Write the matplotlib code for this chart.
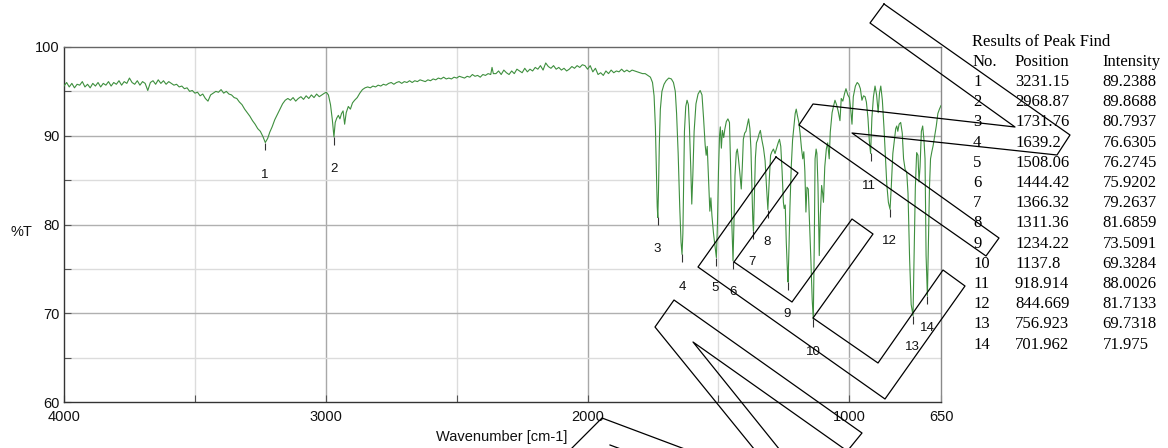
import matplotlib
matplotlib.use("Agg")
import matplotlib.pyplot as plt
from matplotlib.lines import Line2D

# ---------------- data ----------------
wavenumber = [
    4000, 3990, 3980, 3970, 3960, 3950, 3940, 3930, 3920, 3910,
    3900, 3890, 3880, 3870, 3860, 3850, 3840, 3830, 3820, 3810,
    3800, 3790, 3780, 3770, 3760, 3750, 3740, 3730, 3720, 3710,
    3700, 3690, 3680, 3670, 3660, 3650, 3640, 3630, 3620, 3610,
    3600, 3590, 3580, 3570, 3560, 3550, 3540, 3530, 3520, 3510,
    3500, 3490, 3480, 3470, 3460, 3450, 3440, 3430, 3420, 3410,
    3400, 3390, 3380, 3370, 3360, 3350, 3340, 3330, 3320, 3310,
    3300, 3290, 3280, 3270, 3260, 3250, 3240, 3231.15, 3222, 3214,
    3205, 3195, 3185, 3175, 3165, 3155, 3145, 3135, 3125, 3115,
    3105, 3095, 3085, 3075, 3065, 3055, 3045, 3035, 3025, 3015,
    3005, 2998, 2990, 2982, 2975, 2968.87, 2964, 2958, 2952, 2946,
    2940, 2934, 2928, 2922, 2914, 2906, 2898, 2890, 2880, 2870,
    2860, 2850, 2840, 2830, 2820, 2810, 2800, 2790, 2780, 2770,
    2760, 2750, 2740, 2730, 2720, 2710, 2700, 2690, 2680, 2670,
    2660, 2650, 2640, 2630, 2620, 2610, 2600, 2590, 2580, 2570,
    2560, 2550, 2540, 2530, 2520, 2510, 2500, 2490, 2480, 2470,
    2460, 2450, 2440, 2430, 2420, 2410, 2400, 2390, 2380, 2370,
    2365, 2360, 2350, 2340, 2330, 2320, 2310, 2300, 2290, 2280,
    2270, 2260, 2250, 2240, 2230, 2220, 2210, 2200, 2190, 2180,
    2170, 2160, 2150, 2140, 2130, 2120, 2110, 2100, 2090, 2080,
    2070, 2060, 2050, 2040, 2030, 2020, 2010, 2000, 1990, 1980,
    1970, 1960, 1950, 1940, 1930, 1920, 1910, 1900, 1890, 1880,
    1870, 1860, 1850, 1840, 1830, 1820, 1810, 1800, 1790, 1780,
    1770, 1760, 1752, 1746, 1741, 1737, 1734, 1731.76, 1729, 1726,
    1722, 1716, 1708, 1700, 1690, 1680, 1672, 1665, 1660, 1654,
    1648, 1643, 1639.2, 1636, 1633, 1630, 1625, 1620, 1615, 1611,
    1606, 1602, 1598, 1593, 1586, 1578, 1570, 1563, 1557, 1551,
    1547, 1543, 1538, 1533, 1529, 1525, 1519, 1513, 1508.06, 1504,
    1500, 1496, 1493, 1489, 1485, 1480, 1476, 1470, 1464, 1458,
    1454, 1450, 1446, 1444.42, 1441, 1437, 1432, 1428, 1424, 1419,
    1413, 1409, 1405, 1400, 1395, 1390, 1385, 1380, 1376, 1372,
    1369, 1366.32, 1363, 1359, 1355, 1350, 1345, 1340, 1334, 1328,
    1322, 1317, 1311.36, 1306, 1301, 1296, 1290, 1284, 1278, 1272,
    1267, 1262, 1257, 1252, 1249, 1245, 1241, 1237, 1234.22, 1231,
    1227, 1222, 1217, 1212, 1207, 1203, 1198, 1193, 1188, 1183,
    1178, 1174, 1170, 1166, 1162, 1157, 1152, 1147, 1142, 1137.8,
    1134, 1131, 1127, 1124, 1120, 1115, 1111, 1106, 1102, 1099,
    1094, 1088, 1083, 1077, 1073, 1066, 1060, 1055, 1049, 1043,
    1036, 1031, 1025, 1018, 1013, 1006, 1000, 995, 990, 985,
    977, 970, 964, 958, 952, 946, 940, 935, 929, 924,
    918.914, 914, 908, 902, 896, 890, 885, 880, 874, 868,
    862, 857, 851, 844.669, 840, 834, 829, 823, 819, 815,
    810, 804, 798, 793, 787, 781, 776, 770, 764, 756.923,
    753, 748, 743, 738, 734, 730, 725, 720, 715, 711,
    707, 701.962, 698, 694, 690, 685, 680, 674, 668, 662,
    656, 650,
]
transmittance = [
    95.6, 96.0, 95.5, 95.9, 95.4, 95.8, 95.7, 96.1, 95.5, 95.8,
    95.4, 95.9, 95.6, 96.0, 95.5, 95.9, 95.7, 96.1, 95.6, 96.0,
    95.8, 96.2, 95.7, 96.1, 95.9, 96.5, 96.0, 95.8, 96.2, 95.7,
    96.1, 95.9, 95.1, 96.0, 96.2, 95.8, 96.3, 95.9, 96.2, 95.8,
    96.1, 95.9, 95.7, 95.8, 95.5, 95.6, 95.3, 95.4, 95.0, 95.1,
    94.8, 94.9, 94.5, 94.7, 94.2, 93.9, 94.6, 94.8, 95.0, 94.9,
    95.2, 94.8, 95.0, 94.7, 94.6, 94.3, 94.2, 93.8, 93.5, 93.0,
    92.6, 92.2, 91.7, 91.3, 90.8, 90.5, 89.9, 89.2388, 89.7, 90.4,
    91.0, 91.8, 92.4, 93.0, 93.6, 94.0, 94.2, 94.0, 94.3, 93.9,
    94.2, 94.4, 94.1, 94.5, 94.2, 94.6, 94.3, 94.7, 94.4, 94.6,
    94.8, 94.9, 94.6, 93.5, 91.8, 89.8688, 91.5, 92.0, 92.3, 91.9,
    92.5, 92.8, 91.3, 92.6, 93.3, 93.0, 93.7, 94.0, 94.3, 94.8,
    95.2, 95.4, 95.5, 95.4, 95.6, 95.5, 95.7, 95.6, 95.8, 95.7,
    95.9, 96.0, 95.8, 96.0, 96.1, 95.9, 96.1, 96.0, 96.2, 96.0,
    96.2, 96.1, 96.3, 96.2, 96.1, 96.3, 96.2, 96.4, 96.3, 96.5,
    96.4, 96.6, 96.4, 96.5, 96.4, 96.6, 96.5, 96.7, 96.6, 96.5,
    96.7, 96.6, 96.9, 96.7, 96.8, 96.6, 96.9, 96.8, 97.0, 96.9,
    97.7, 97.0, 97.0, 97.3, 96.9, 97.4, 97.1, 96.9, 97.3, 97.0,
    97.5, 97.3, 97.1, 97.6, 97.2, 97.5, 97.3, 97.7, 97.5, 97.9,
    97.4, 98.2, 97.8, 97.6, 97.9, 97.5, 97.7, 97.4, 97.6, 97.3,
    97.5, 97.8, 97.6, 97.9, 97.7, 98.0, 97.9, 97.5, 97.9, 97.2,
    97.6, 96.9, 97.1, 96.8, 97.3, 97.0, 97.4, 97.1, 97.3, 97.2,
    97.5, 97.2, 97.4, 97.2, 97.4, 97.3, 97.2, 97.1, 97.0, 97.0,
    96.8, 96.6, 96.0, 94.5, 91.0, 86.0, 82.0, 80.7937, 84.0, 89.0,
    93.0, 95.0, 95.8, 96.2, 96.5, 96.4, 96.0, 95.0, 92.5, 88.0,
    82.0, 78.0, 76.6305, 79.0, 85.0, 90.5, 93.3, 94.0, 93.5, 91.0,
    86.5, 82.3, 85.5, 90.5, 93.6, 94.7, 95.1, 94.6, 92.0, 89.0,
    87.8, 88.8, 85.0, 81.5, 83.0, 81.0, 79.0, 77.5, 76.2745, 80.0,
    86.0, 90.0, 91.0, 88.6, 90.6, 89.8, 90.7, 91.6, 91.9, 91.5,
    87.0, 81.0, 77.5, 75.9202, 80.0, 85.5, 88.1, 88.5, 87.5, 86.0,
    84.0, 86.5, 89.6, 90.3, 90.5, 91.2, 91.9, 90.8, 88.5, 84.0,
    80.5, 79.2637, 83.0, 87.5, 89.2, 89.6, 90.2, 90.6, 89.5, 88.6,
    87.2, 84.5, 81.6859, 85.0, 87.8, 88.2, 88.5, 88.0, 88.6, 89.2,
    89.6, 88.8, 86.0, 82.5, 81.8, 82.2, 78.0, 75.0, 73.5091, 77.0,
    82.0, 86.5, 89.5, 91.0, 92.5, 93.0, 92.2, 91.5, 90.2, 88.6,
    87.4, 88.2, 86.0, 81.4, 84.2, 84.0, 80.0, 76.0, 71.5, 69.3284,
    78.0, 87.4, 88.5, 88.0, 84.5, 76.5, 81.0, 84.4, 83.5, 82.5,
    86.5, 88.5, 89.2, 87.4, 90.4, 92.6, 93.4, 94.0, 93.5, 92.8,
    91.7, 94.2, 93.9, 94.8, 95.3, 94.6, 94.3, 93.0, 91.3, 94.4,
    95.6, 96.0, 95.8, 95.3, 94.0, 94.5, 94.4, 93.8, 92.0, 89.5,
    88.0026, 92.0, 94.4, 95.6, 94.6, 92.6, 94.8, 95.6, 94.0, 91.0,
    87.4, 84.5, 82.5, 81.7133, 84.2, 88.0, 89.3, 90.8, 91.1, 90.5,
    91.3, 91.5, 90.3, 87.4, 86.2, 85.9, 83.5, 76.2, 71.0, 69.7318,
    76.0, 84.2, 88.1, 87.8, 84.8, 86.5, 90.5, 91.1, 89.5, 87.4,
    76.5, 71.975, 78.0, 84.2, 87.4, 88.2, 88.9, 90.0, 91.1, 92.5,
    93.0, 93.4,
]

peak_no = [1, 2, 3, 4, 5, 6, 7, 8, 9, 10, 11, 12, 13, 14]
peak_position = [3231.15, 2968.87, 1731.76, 1639.2, 1508.06, 1444.42, 1366.32,
                 1311.36, 1234.22, 1137.8, 918.914, 844.669, 756.923, 701.962]
peak_position_text = ["3231.15", "2968.87", "1731.76", "1639.2", "1508.06", "1444.42",
                      "1366.32", "1311.36", "1234.22", "1137.8", "918.914", "844.669",
                      "756.923", "701.962"]
peak_intensity = [89.2388, 89.8688, 80.7937, 76.6305, 76.2745, 75.9202, 79.2637,
                  81.6859, 73.5091, 69.3284, 88.0026, 81.7133, 69.7318, 71.975]
peak_intensity_text = ["89.2388", "89.8688", "80.7937", "76.6305", "76.2745", "75.9202",
                       "79.2637", "81.6859", "73.5091", "69.3284", "88.0026", "81.7133",
                       "69.7318", "71.975"]

x_tick_values = [4000, 3000, 2000, 1000, 650]
x_tick_labels = ["4000", "3000", "2000", "1000", "650"]
y_tick_values = [60, 70, 80, 90, 100]
y_tick_labels = ["60", "70", "80", "90", "100"]

# ---------------- layout (pixels of the 1168x448 canvas) ----------------
W, H = 1168, 448
label_xy = [(265, 175), (334, 169), (657, 249), (682, 287), (715, 288), (733, 292),
            (752, 262), (767, 242), (787, 314), (813, 352), (869, 186), (889, 241),
            (912, 347), (927, 328)]

overlay_lines = [
    [(884, 4), (1070, 135), (1057, 155), (852, 133), (999, 238), (986, 256),
     (799, 125), (813, 104), (1015, 127), (870, 23), (884, 4)],
    [(776, 157), (798, 173), (734, 262), (792, 302), (852, 219), (873, 234),
     (813, 318), (878, 363), (943, 270), (965, 286), (885, 399), (698, 267), (776, 157)],
    [(763, 460), (655, 327), (674, 300), (862, 433), (840, 460)],
    [(788, 460), (693, 342), (860, 460)],
    [(560, 460), (602, 418), (714, 460)],
    [(610, 445), (642, 457)],
]

SANS = ["Liberation Sans", "DejaVu Sans"]
SERIF = ["Liberation Serif", "DejaVu Serif"]

fig = plt.figure(figsize=(W / 100, H / 100), dpi=100)
ax_left, ax_right, ax_top, ax_bottom = 64, 941, 47, 402
ax = fig.add_axes([ax_left / W, 1 - ax_bottom / H, (ax_right - ax_left) / W,
                   (ax_bottom - ax_top) / H])

# grid
for v in [3500, 2500, 1500]:
    ax.axvline(v, color="#dcdcdc", lw=1.0, zorder=0)
for v in [3000, 2000, 1000]:
    ax.axvline(v, color="#a8a8a8", lw=1.0, zorder=0)
for v in [65, 75, 85, 95]:
    ax.axhline(v, color="#dcdcdc", lw=1.0, zorder=0)
for v in [70, 80, 90]:
    ax.axhline(v, color="#b0b0b0", lw=1.0, zorder=0)

ax.plot(wavenumber, transmittance, color="#3e8f3e", lw=0.8, zorder=3)
ax.vlines(peak_position, [p - 0.9 for p in peak_intensity], peak_intensity,
          color="#333333", lw=0.8, zorder=4)

ax.set_xlim(4000, 650)
ax.set_ylim(60, 100)

ax.set_xticks([4000, 3500, 3000, 2500, 2000, 1500, 1000, 650])
ax.set_xticklabels(["4000", "", "3000", "", "2000", "", "1000", "650"])
ax.set_yticks([60, 65, 70, 75, 80, 85, 90, 95, 100])
ax.set_yticklabels(["60", "", "70", "", "80", "", "90", "", "100"])
ax.tick_params(axis="x", direction="in", length=5, width=0.8, color="#555555",
               pad=6, labelsize=10.5, labelcolor="#111111")
ax.tick_params(axis="y", direction="in", length=5, width=0.8, color="#555555",
               pad=3, labelsize=10.5, labelcolor="#111111")
for lab in ax.get_xticklabels() + ax.get_yticklabels():
    lab.set_family(SANS)

ax.spines["left"].set_color("#333333")
ax.spines["bottom"].set_color("#333333")
ax.spines["top"].set_color("#666666")
ax.spines["right"].set_color("#8a8a8a")
for s in ax.spines.values():
    s.set_linewidth(1.0)


def fx(x):
    return x / W


def fy(y):
    return 1 - y / H


# peak labels
for n, (px, py) in zip(peak_no, label_xy):
    fig.text(fx(px), fy(py), str(n), ha="center", va="center", fontsize=9.5,
             family=SANS, color="#111111")

fig.text(fx(21), fy(232), "%T", ha="center", va="center", fontsize=10.5,
         family=SANS, color="#111111")
fig.text(fx(567), fy(437), "Wavenumber [cm-1]", ha="right", va="center",
         fontsize=10.5, family=SANS, color="#111111")

# peak table
fig.text(fx(972), fy(42), "Results of Peak Find", ha="left", va="center",
         fontsize=12, family=SERIF)
fig.text(fx(973), fy(62), "No.", ha="left", va="center", fontsize=12, family=SERIF)
fig.text(fx(1015), fy(62), "Position", ha="left", va="center", fontsize=12, family=SERIF)
fig.text(fx(1102.5), fy(62), "Intensity", ha="left", va="center", fontsize=12, family=SERIF)
for i, (n, pos, inten) in enumerate(zip(peak_no, peak_position_text, peak_intensity_text)):
    y = 82 + 20.2 * i
    fig.text(fx(973), fy(y), str(n), ha="left", va="center", fontsize=12, family=SERIF)
    fig.text(fx(1015), fy(y), pos, ha="left", va="center", fontsize=12, family=SERIF)
    fig.text(fx(1102.5), fy(y), inten, ha="left", va="center", fontsize=12, family=SERIF)

# overlay outline drawing
for poly in overlay_lines:
    xs = [fx(p[0]) for p in poly]
    ys = [fy(p[1]) for p in poly]
    fig.add_artist(Line2D(xs, ys, transform=fig.transFigure, color="black",
                          lw=0.9, zorder=10))

fig.savefig("out.png", dpi=100)
